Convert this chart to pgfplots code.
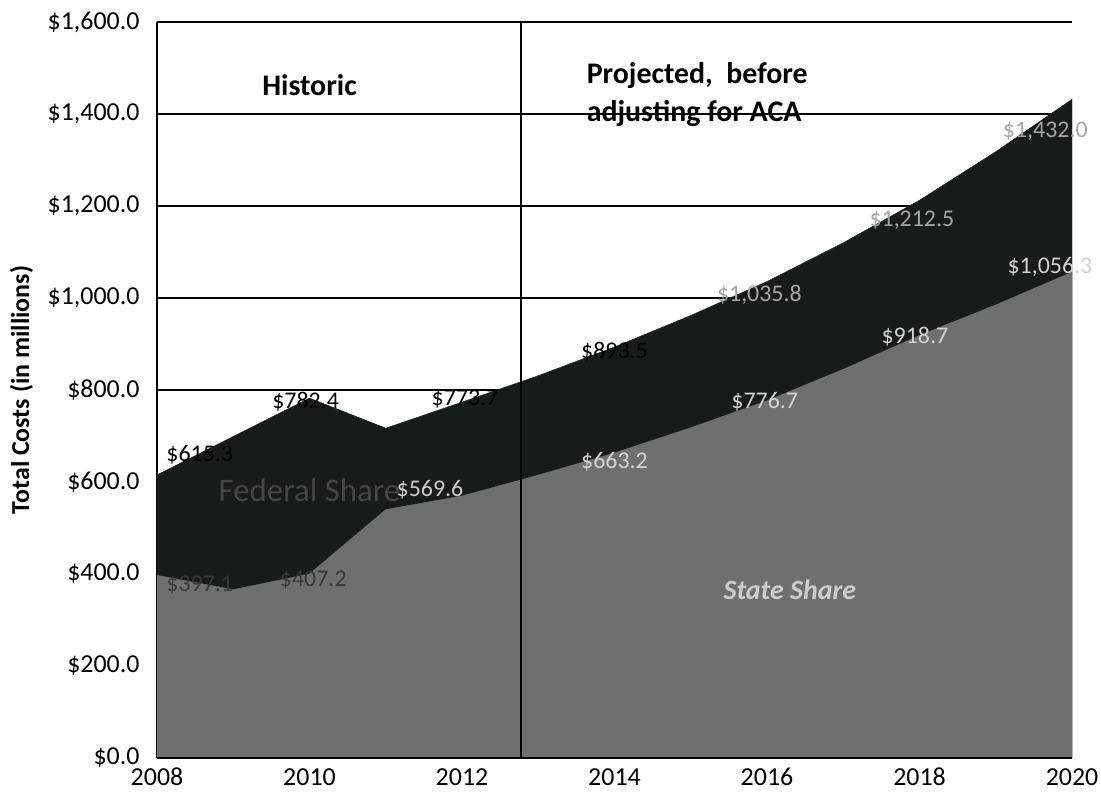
\documentclass[border=0pt]{standalone}
\usepackage{pgfplots}
\pgfplotsset{compat=1.18}
\usepackage{fontspec}
\setmainfont{Carlito}
\definecolor{fed}{RGB}{22,28,25}
\definecolor{state}{RGB}{108,113,111}
\begin{document}
\begin{tikzpicture}
\useasboundingbox (0bp,0bp) rectangle (1101bp,802bp);
\begin{axis}[
  at={(157bp,44bp)}, anchor=south west,
  scale only axis, width=915bp, height=736bp,
  xmin=2008, xmax=2020, ymin=0, ymax=1600,
  axis x line*=bottom, axis y line*=left,
  axis line style={black, line width=1.2pt},
  xtick={2008,2010,...,2020}, ytick={0,200,...,1600},
  major tick length=0pt,
  ymajorgrids, grid style={black, line width=1.2pt},
  /pgf/number format/assume math mode=true,
  xticklabel={\pgfmathprintnumber[1000 sep={}]{\tick}},
  yticklabel={\$\pgfmathprintnumber[fixed,fixed zerofill,precision=1,1000 sep={,}]{\tick}},
  xticklabel style={font=\fontsize{26}{30}\selectfont, yshift=-7bp, text height=17bp, text depth=0bp},
  yticklabel style={font=\fontsize{26}{30}\selectfont, xshift=-14bp},
  ylabel={Total Costs (in millions)},
  every axis y label/.style={at={(axis description cs:-0.148,0.5)}, rotate=90, anchor=center, font=\bfseries\fontsize{26}{30}\selectfont},
  clip=false,
]
\addplot[fill=fed, draw=fed] coordinates {
(2008,615.3) (2009,699) (2010,782.4) (2011,717) (2012,773.7) (2013,831)
(2014,893.5) (2015,962) (2016,1035.8) (2017,1120) (2018,1212.5) (2019,1318) (2020,1432.0)
} \closedcycle;
\addplot[fill=state, draw=state] coordinates {
(2008,397.1) (2009,366) (2010,400.2) (2011,540) (2012,569.6) (2013,615)
(2014,663.2) (2015,718) (2016,776.7) (2017,845) (2018,918.7) (2019,985) (2020,1056.3)
} \closedcycle;
\draw[black, line width=2pt] (axis cs:2012.77,0) -- (axis cs:2012.77,1600);
\draw[black, line width=1.2pt] (axis cs:2008,0) -- (axis cs:2020,0);
\begin{scope}[every node/.style={font=\fontsize{24}{28}\selectfont, text=black}]
\node at (axis cs:2008.56,659) {\$615.3};
\node at (axis cs:2009.95,775) {\$782.4};
\node at (axis cs:2012.04,780) {\$773.7};
\node at (axis cs:2014.0,883) {\$893.5};
\node[text=gray!70] at (axis cs:2015.9,1006) {\$1,035.8};
\node[text=gray!70] at (axis cs:2017.9,1170) {\$1,212.5};
\node[text=gray!70] at (axis cs:2019.65,1363) {\$1,432.0};
\end{scope}
\begin{scope}[every node/.style={font=\fontsize{24}{28}\selectfont, text=gray!60}]
\node[text=gray!45!black] at (axis cs:2008.56,376) {\$397.1};
\node[text=gray!45!black] at (axis cs:2010.05,387) {\$407.2};
\node[text=gray!40] at (axis cs:2011.58,583) {\$569.6};
\node[text=gray!35] at (axis cs:2014.0,643) {\$663.2};
\node[text=gray!35] at (axis cs:2015.97,774) {\$776.7};
\node[text=gray!35] at (axis cs:2017.94,915) {\$918.7};
\node[text=gray!35] at (axis cs:2019.71,1067) {\$1,056.3};
\end{scope}
\node[font=\fontsize{33}{36}\selectfont, text=gray!55!black] at (axis cs:2010.0,583) {Federal Share};
\node[font=\bfseries\itshape\fontsize{28}{32}\selectfont, text=gray!40] at (axis cs:2016.3,365) {State Share};
\node[font=\bfseries\fontsize{30}{34}\selectfont] at (axis cs:2010.0,1463) {Historic};
\node[font=\bfseries\fontsize{30}{38}\selectfont, align=left, anchor=west] at (axis cs:2013.59,1443) {Projected,\ \ before\\adjusting for ACA};
\end{axis}
\end{tikzpicture}
\end{document}
